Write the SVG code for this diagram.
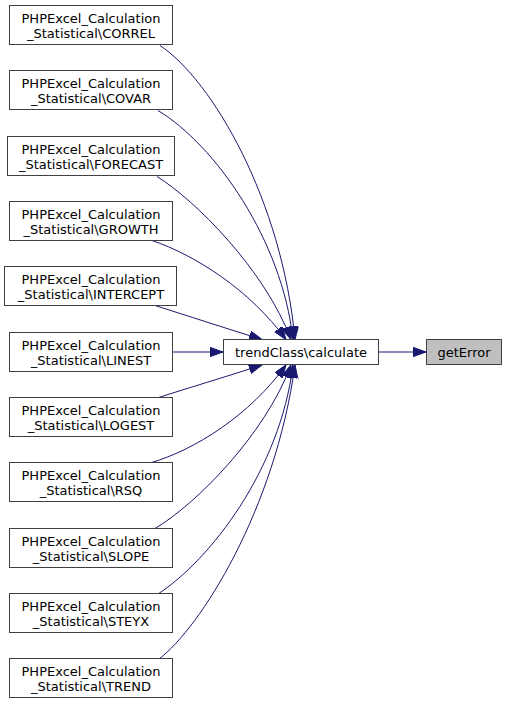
<svg xmlns="http://www.w3.org/2000/svg" width="507" height="705" viewBox="0 0 507 705">
<style>
.n rect{fill:#ffffff;stroke:#404040;stroke-width:1}
.n.cur rect{fill:#bfbfbf}
.n text{font-family:"DejaVu Sans",sans-serif;font-size:13px;fill:#000;text-anchor:middle}
.e path{fill:none;stroke:#191970;stroke-width:1}
</style>
<defs>
<marker id="ah" markerUnits="userSpaceOnUse" markerWidth="14" markerHeight="10" refX="13" refY="4.67" orient="auto">
<path d="M0,0 L13,4.67 L0,9.33 Z" fill="#191970" stroke="#191970" stroke-width="1"/>
</marker>
</defs>
<rect width="507" height="705" fill="#ffffff"/>
<g id="edges" class="e">
<path d="M378,352 L426,352" marker-end="url(#ah)"/>
<path d="M172,352 L223,352" marker-end="url(#ah)"/>
<path d="M160,45.5 C212,80 282,200 295,339.5" marker-end="url(#ah)"/>
<path d="M158,110.5 C215,145 282,240 293,339.5" marker-end="url(#ah)"/>
<path d="M157,176.5 C195,200 265,270 291,339.5" marker-end="url(#ah)"/>
<path d="M152,240.5 C195,255 250,290 286,339.5" marker-end="url(#ah)"/>
<path d="M155,305.5 C185,315 225,328 262,339.5" marker-end="url(#ah)"/>
<path d="M157,398 C185,389 225,377 262,365" marker-end="url(#ah)"/>
<path d="M150,463 C195,450 250,415 286,365" marker-end="url(#ah)"/>
<path d="M155,528.5 C195,505 265,435 291,365" marker-end="url(#ah)"/>
<path d="M158,594 C210,560 280,470 293,365" marker-end="url(#ah)"/>
<path d="M159,659 C200,628 275,510 295,365" marker-end="url(#ah)"/>
</g>
<g id="node_getError" class="n cur"><rect x="426.5" y="339.5" width="75" height="25"/><text x="464" y="357">getError</text></g>
<g id="node_calculate" class="n"><rect x="223.5" y="339.5" width="155" height="25"/><text x="301" y="357">trendClass\calculate</text></g>
<g id="node_CORREL" class="n"><rect x="9.5" y="5.5" width="163" height="39"/><text x="91" y="22.5">PHPExcel_Calculation</text><text x="91" y="37.5">_Statistical\CORREL</text></g>
<g id="node_COVAR" class="n"><rect x="9.5" y="70.5" width="163" height="39"/><text x="91" y="87.5">PHPExcel_Calculation</text><text x="91" y="102.5">_Statistical\COVAR</text></g>
<g id="node_FORECAST" class="n"><rect x="7.5" y="136.5" width="167" height="39"/><text x="91" y="153.5">PHPExcel_Calculation</text><text x="91" y="168.5">_Statistical\FORECAST</text></g>
<g id="node_GROWTH" class="n"><rect x="9.5" y="201.5" width="163" height="39"/><text x="91" y="218.5">PHPExcel_Calculation</text><text x="91" y="233.5">_Statistical\GROWTH</text></g>
<g id="node_INTERCEPT" class="n"><rect x="4.5" y="266.5" width="172" height="39"/><text x="91" y="283.5">PHPExcel_Calculation</text><text x="91" y="298.5">_Statistical\INTERCEPT</text></g>
<g id="node_LINEST" class="n"><rect x="9.5" y="332.5" width="163" height="39"/><text x="91" y="349.5">PHPExcel_Calculation</text><text x="91" y="364.5">_Statistical\LINEST</text></g>
<g id="node_LOGEST" class="n"><rect x="9.5" y="397.5" width="163" height="39"/><text x="91" y="414.5">PHPExcel_Calculation</text><text x="91" y="429.5">_Statistical\LOGEST</text></g>
<g id="node_RSQ" class="n"><rect x="9.5" y="462.5" width="163" height="39"/><text x="91" y="479.5">PHPExcel_Calculation</text><text x="91" y="494.5">_Statistical\RSQ</text></g>
<g id="node_SLOPE" class="n"><rect x="9.5" y="528.5" width="163" height="39"/><text x="91" y="545.5">PHPExcel_Calculation</text><text x="91" y="560.5">_Statistical\SLOPE</text></g>
<g id="node_STEYX" class="n"><rect x="9.5" y="593.5" width="163" height="39"/><text x="91" y="610.5">PHPExcel_Calculation</text><text x="91" y="625.5">_Statistical\STEYX</text></g>
<g id="node_TREND" class="n"><rect x="9.5" y="658.5" width="163" height="39"/><text x="91" y="675.5">PHPExcel_Calculation</text><text x="91" y="690.5">_Statistical\TREND</text></g>
</svg>
